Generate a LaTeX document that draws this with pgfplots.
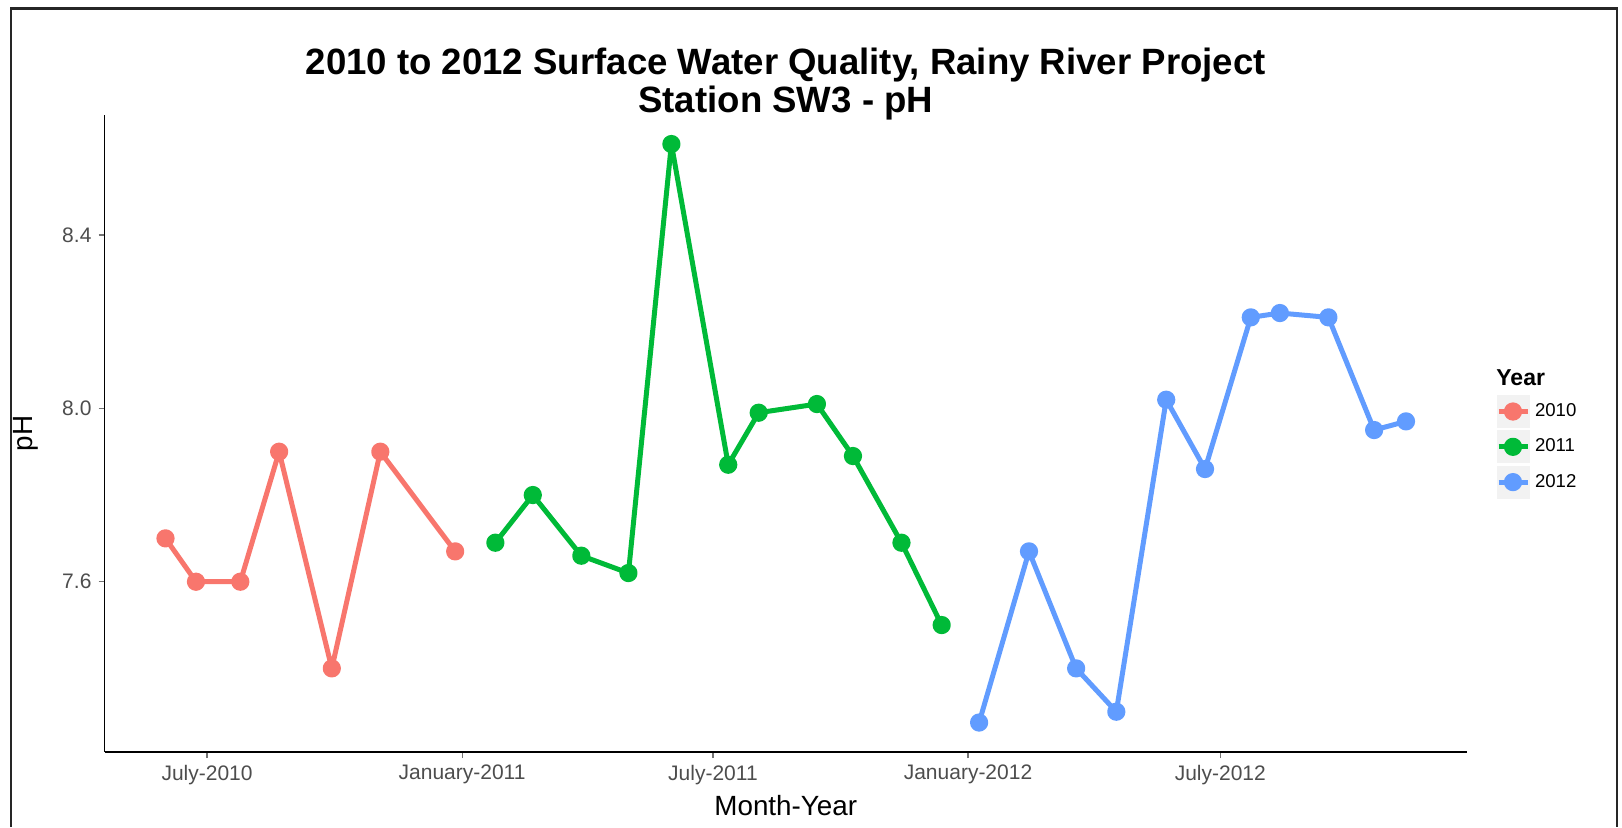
\documentclass[border=0pt]{standalone}
\usepackage{fontspec}
\setmainfont{Liberation Sans}
\usepackage{pgfplots}
\pgfplotsset{compat=1.18}
\definecolor{c2010}{HTML}{F8766D}
\definecolor{c2011}{HTML}{00BA38}
\definecolor{c2012}{HTML}{619CFF}
\definecolor{grey30}{HTML}{4D4D4D}
\definecolor{keybg}{HTML}{F2F2F2}

% x = days since 1 July 2010
\begin{document}
\begin{tikzpicture}
\begin{axis}[
    at={(0,0)}, anchor=south west,
    scale only axis,
    width=681.25pt, height=318.5pt,
    xmin=-74, xmax=909,
    ymin=7.207, ymax=8.677,
    axis x line*=bottom,
    axis y line*=left,
    axis line style={line width=0.75pt, black},
    tick align=outside,
    major tick length=3pt,
    tick style={line width=0.6pt, black!55},
    xtick={0,184,365,549,731},
    xticklabels={July-2010,January-2011,July-2011,January-2012,July-2012},
    ytick={7.6,8.0,8.4},
    yticklabel style={/pgf/number format/fixed,
        /pgf/number format/fixed zerofill,
        /pgf/number format/precision=1},
    /pgf/number format/assume math mode=true,
    tick label style={font=\fontsize{10.5}{12}\selectfont, text=grey30},
    legend style={at={(1.02128,0.56044)}, anchor=north west,
        draw=none, fill=none, inner sep=0pt, outer sep=0pt,
        row sep=1.15pt, column sep=2.5pt,
        font=\fontsize{9.3}{10}\selectfont,
        nodes={inner sep=0pt}},
    legend cell align=left,
    legend image code/.code={
        \fill[fill=keybg, draw=none] (0pt,-8.25pt) rectangle (16.5pt,8.25pt);
        \draw[#1, mark repeat=2, mark phase=2]
            plot coordinates {(1pt,0pt) (8.25pt,0pt) (15.5pt,0pt)};
    },
    every axis plot/.append style={line width=2.5pt, line join=round,
        mark=*, mark size=3.3pt, mark options={solid}},
]
\addplot[c2010] coordinates {
    (-30,7.70) (-8,7.60) (24,7.60) (52,7.90) (90,7.40) (125,7.90) (179,7.67)
};
\addlegendentry{2010}
\addplot[c2011] coordinates {
    (208,7.69) (235,7.80) (270,7.66) (304,7.62) (335,8.61) (376,7.87)
    (398,7.99) (440,8.01) (466,7.89) (501,7.69) (530,7.50)
};
\addlegendentry{2011}
\addplot[c2012] coordinates {
    (557,7.275) (593,7.67) (627,7.40) (656,7.30) (692,8.02) (720,7.86)
    (753,8.21) (774,8.22) (809,8.21) (842,7.95) (865,7.97)
};
\addlegendentry{2012}
\end{axis}
% titles and labels (axis box: 681.25pt x 318.5pt at origin)
\node[anchor=base, font=\fontsize{18.3}{20}\selectfont\bfseries]
    at (340.625pt,338.75pt) {2010 to 2012 Surface Water Quality, Rainy River Project};
\node[anchor=base, font=\fontsize{18.3}{20}\selectfont\bfseries]
    at (340.625pt,319.75pt) {Station SW3 - pH};
\node[anchor=base, font=\fontsize{13.9}{15}\selectfont]
    at (340.625pt,-31.5pt) {Month-Year};
\node[anchor=base, rotate=90, font=\fontsize{13.9}{15}\selectfont]
    at (-35.75pt,159.25pt) {pH};
\node[anchor=base west, inner sep=0pt, font=\fontsize{11.5}{13}\selectfont\bfseries]
    at (695.75pt,183.5pt) {Year};
% figure frame
\draw[line width=1.2pt, black!85] (-46.75pt,-37.5pt) -- (-46.75pt,371.75pt)
    -- (756.25pt,371.75pt) -- (756.25pt,-37.5pt);
\pgfresetboundingbox
\useasboundingbox (-52.25pt,-37.5pt) rectangle (758.75pt,376pt);
\end{tikzpicture}
\end{document}
